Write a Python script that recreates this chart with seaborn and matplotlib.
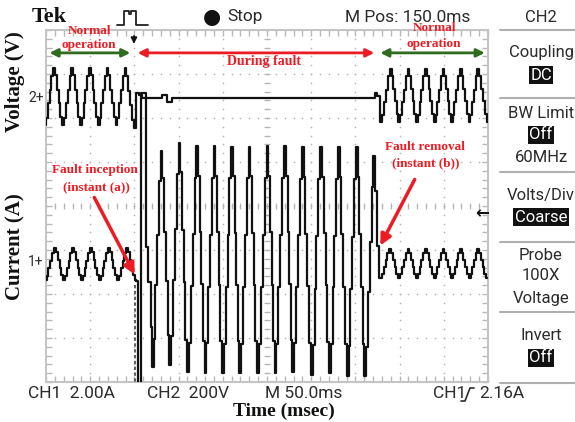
import matplotlib
matplotlib.use("Agg")

import matplotlib.pyplot as plt  # noqa: E402
from matplotlib.lines import Line2D  # noqa: E402
from matplotlib.patches import FancyArrowPatch  # noqa: E402
from matplotlib.ticker import MultipleLocator, NullFormatter  # noqa: E402
import numpy as np  # noqa: E402
import pandas as pd  # noqa: E402
import seaborn as sns  # noqa: E402

# ── Trace data ───────────────────────────────────────────────────────────────
# time in ms (50 ms/div, 10 div), level in screen divisions (0 = centre line)

# CH2 voltage: turning points before the fault
v_pre_t = [-1.0, 9.0, 19.5, 29.7, 39.5, 49.7, 59.8, 69.6, 79.8, 90.0, 100.5]
v_pre_v = [1.84, 3.14, 1.84, 3.14, 1.84, 3.14, 1.84, 3.14, 1.84, 3.14, 1.77]
# CH2 voltage while the fault is on (collapses to a flat level)
v_fault_t = [104.0, 106.5, 110.0, 128.5, 133.0, 140.5, 144.0, 250.0, 371.0, 373.5, 376.0]
v_fault_v = [2.57, 2.52, 2.46, 2.46, 2.52, 2.36, 2.45, 2.45, 2.45, 2.57, 2.50]
# CH2 voltage turning points after clearing
v_post_t = [379.0, 390.2, 399.5, 410.0, 419.5, 429.7, 439.8, 449.5, 459.0, 469.2, 479.1, 489.0, 499.5]
v_post_v = [1.92, 3.11, 1.92, 3.11, 1.92, 3.11, 1.92, 3.11, 1.92, 3.11, 1.92, 3.11, 1.92]

# CH1 current: turning points before the fault
i_pre_t = [-0.5, 10.2, 20.5, 30.8, 40.8, 50.8, 61.0, 71.1, 81.4, 91.8, 101.5]
i_pre_v = [-1.68, -0.96, -1.68, -0.96, -1.68, -0.96, -1.68, -0.96, -1.68, -0.96, -1.68]
# CH1 current at the fault inception (off-screen dip, first offset peak)
i_start_t = [103.0, 105.0, 107.0, 109.0, 111.5, 114.0, 117.0, 119.5]
i_start_v = [-1.70, -4.50, -4.50, 2.57, 2.57, -0.93, -1.73, -2.75]
# CH1 fault current turning points
i_fault_t = [120.8, 130.6, 140.7, 151.2, 160.6, 171.2, 180.2, 190.7, 200.1, 210.7, 219.7,
             230.3, 239.6, 250.6, 259.6, 270.9, 279.2, 290.4, 300.6, 311.2, 321.3, 331.0,
             341.2, 351.4, 361.2, 371.3]
i_fault_v = [-3.65, 1.26, -3.61, 1.44, -3.77, 1.36, -3.79, 1.36, -3.80, 1.35, -3.80,
             1.35, -3.80, 1.36, -3.80, 1.36, -3.77, 1.33, -3.84, 1.33, -3.80, 1.33,
             -3.86, 1.33, -3.86, 1.14]
# CH1 current at fault removal
i_clear_t = [373.5, 375.5]
i_clear_v = [0.35, -0.92]
# CH1 current turning points after clearing
i_post_t = [378.9, 389.4, 399.5, 410.0, 419.5, 429.7, 439.9, 449.6, 459.7, 469.2, 479.3, 489.1, 498.5]
i_post_v = [-1.64, -0.98, -1.64, -0.98, -1.64, -0.98, -1.64, -0.98, -1.64, -0.98, -1.64, -0.98, -1.64]

# dashed trace segment just before the inception
gap_t = [100.3, 100.3]
gap_v = [-1.80, -4.20]

# fraction of a swing reached at each scope sample between two turning points
EDGE = [0.13, 0.38, 0.61, 0.86]

W, H = 575, 422
SCOPE_FONT = ["Roboto", "DejaVu Sans"]
SERIF = ["Liberation Serif", "DejaVu Serif"]
RED = "#ec1c24"
GREEN = "#2e6b1f"
INK = "#2b2b2b"


def fx(x):
    return x / W


def fy(y):
    return 1 - y / H


def sampled(ext_t, ext_v):
    t, v = [], []
    for k in range(len(ext_t) - 1):
        t0, t1, v0, v1 = ext_t[k], ext_t[k + 1], ext_v[k], ext_v[k + 1]
        t.append(t0)
        v.append(v0)
        for j, f in enumerate(EDGE, 1):
            t.append(t0 + (t1 - t0) * j / (len(EDGE) + 1))
            v.append(v0 + (v1 - v0) * f)
    t.append(ext_t[-1])
    v.append(ext_v[-1])
    return t, v


def build(*parts):
    t, v = [], []
    for pt, pv, edged in parts:
        if edged:
            pt, pv = sampled(pt, pv)
        t += list(pt)
        v += list(pv)
    return pd.DataFrame({"t": t, "v": v})


volt = build((v_pre_t, v_pre_v, True), (v_fault_t, v_fault_v, False), (v_post_t, v_post_v, True))
curr = build((i_pre_t, i_pre_v, True), (i_start_t, i_start_v, False), (i_fault_t, i_fault_v, True),
             (i_clear_t, i_clear_v, False), (i_post_t, i_post_v, True))

sns.set_theme(style="white")
plt.rcParams["font.family"] = SCOPE_FONT

fig = plt.figure(figsize=(W / 100, H / 100), dpi=100)
ax = fig.add_axes([fx(46), fy(382), (488 - 46) / W, (382 - 30) / H])

# traces
sns.lineplot(data=volt, x="t", y="v", estimator=None, sort=False, drawstyle="steps-mid",
             color="#111111", linewidth=1.6, ax=ax, zorder=5)
sns.lineplot(data=curr, x="t", y="v", estimator=None, sort=False, drawstyle="steps-mid",
             color="#111111", linewidth=1.6, ax=ax, zorder=5)
ax.plot(gap_t, gap_v, color="#444444", lw=1.2, ls=(0, (2, 1.5)), zorder=5)

ax.set_xlim(0, 500)
ax.set_ylim(-4, 4)
ax.set_xlabel("")
ax.set_ylabel("")

# graticule: dotted division lines, ticked centre lines
grid_c = "#b4b4b4"
minor_x = np.arange(0, 500.1, 10)
minor_y = np.arange(-4, 4.01, 0.2)
for xm in np.arange(50, 451, 50):
    ax.plot(np.full_like(minor_y, xm), minor_y, ls="none", marker="o", ms=1.2, mew=0, color=grid_c)
for ym in np.arange(-3, 3.1, 1):
    ax.plot(minor_x, np.full_like(minor_x, ym), ls="none", marker="o", ms=1.2, mew=0, color=grid_c)
ax.plot(minor_x, np.zeros_like(minor_x), ls="none", marker="|", ms=5, mew=0.9, color=grid_c)
ax.plot(np.full_like(minor_y, 250), minor_y, ls="none", marker="_", ms=5, mew=0.9, color=grid_c)

for s in ax.spines.values():
    s.set_color("#c4c4c4")
    s.set_linewidth(1.5)
ax.xaxis.set_major_locator(MultipleLocator(50))
ax.xaxis.set_minor_locator(MultipleLocator(10))
ax.yaxis.set_major_locator(MultipleLocator(1))
ax.yaxis.set_minor_locator(MultipleLocator(0.2))
ax.xaxis.set_major_formatter(NullFormatter())
ax.yaxis.set_major_formatter(NullFormatter())
ax.tick_params(which="both", direction="in", length=4, width=1, color="#b8b8b8",
               top=True, right=True, bottom=True, left=True)

# trigger level marker on the right, trigger position on top
ax.text(493, -0.16, "\u2190", ha="center", va="center", fontsize=12, color="#111111",
        family=["DejaVu Sans"], fontweight="bold", clip_on=False)
ax.annotate("", xy=(99.5, 3.62), xytext=(99.5, 3.93),
            arrowprops=dict(arrowstyle="-|>", color="#111111", lw=1.2, mutation_scale=9))

# channel markers
fig.text(fx(36), fy(98), "2+", ha="center", va="center", fontsize=10, color=INK)
fig.text(fx(36), fy(262), "1+", ha="center", va="center", fontsize=10, color=INK)

# red / green annotations
arrow_y = 3.48
ax.annotate("", xy=(0.8, arrow_y), xytext=(98.5, arrow_y),
            arrowprops=dict(arrowstyle="<|-|>", color=GREEN, lw=2, mutation_scale=12))
ax.annotate("", xy=(100.5, arrow_y), xytext=(374.5, arrow_y),
            arrowprops=dict(arrowstyle="<|-|>", color=RED, lw=2, mutation_scale=12))
ax.annotate("", xy=(375.0, arrow_y), xytext=(499.5, arrow_y),
            arrowprops=dict(arrowstyle="<|-|>", color=GREEN, lw=2, mutation_scale=12))

red_txt = dict(color=RED, family=SERIF, fontweight="bold", ha="center", va="center")
fig.text(fx(89), fy(31), "Normal", fontsize=9.5, **red_txt)
fig.text(fx(89), fy(45), "operation", fontsize=9.5, **red_txt)
fig.text(fx(434), fy(28), "Normal", fontsize=9.5, **red_txt)
fig.text(fx(434), fy(44), "operation", fontsize=9.5, **red_txt)
fig.text(fx(264), fy(62), "During fault", fontsize=10, **red_txt)
fig.text(fx(95), fy(170), "Fault inception", fontsize=9.5, **red_txt)
fig.text(fx(96), fy(187), "(instant (a))", fontsize=9.5, **red_txt)
fig.text(fx(425), fy(147), "Fault removal", fontsize=9.5, **red_txt)
fig.text(fx(426), fy(163), "(instant (b))", fontsize=9.5, **red_txt)

for (x0, y0), (x1, y1) in [((93, 195), (136, 277)), ((416, 177), (379, 248))]:
    fig.add_artist(FancyArrowPatch(
        (fx(x0), fy(y0)), (fx(x1), fy(y1)), transform=fig.transFigure,
        arrowstyle="-|>", color=RED, lw=2.5, mutation_scale=16))

# axis titles
lab = dict(family=SERIF, fontweight="bold", color="#111111", ha="center", va="center")
fig.text(fx(284), fy(411), "Time (msec)", fontsize=14, **lab)
fig.text(fx(15), fy(82), "Voltage (V)", fontsize=15, rotation=90, **lab)
fig.text(fx(15), fy(247), "Current (A)", fontsize=15, rotation=90, **lab)

# top status bar
fig.text(fx(49), fy(17), "Tek", fontsize=16, **lab)
fig.text(fx(212), fy(17), "\u25cf", fontsize=15, color="#111111", family=["DejaVu Sans"],
         ha="center", va="center")
fig.text(fx(227), fy(17), "Stop", fontsize=12.5, color=INK, ha="left", va="center")
fig.text(fx(345), fy(17), "M Pos: 150.0ms", fontsize=12.5, color=INK, ha="left", va="center")
px = [117, 124, 124, 129, 129, 131, 131, 136, 136, 148]
py = [25, 25, 11, 11, 14, 14, 11, 11, 25, 25]
fig.add_artist(Line2D([fx(p) for p in px], [fy(p) for p in py], transform=fig.transFigure,
                      color="#222222", lw=1.3))

# bottom status bar
for x, s in [(28, "CH1  2.00A"), (147, "CH2  200V"), (265, "M 50.0ms"), (433, "CH1"), (479, "2.16A")]:
    fig.text(fx(x), fy(394), s, fontsize=12.5, color=INK, ha="left", va="center")
sx = [461, 465, 470, 474]
sy = [401, 401, 388, 388]
fig.add_artist(Line2D([fx(p) for p in sx], [fy(p) for p in sy], transform=fig.transFigure,
                      color=INK, lw=1.2))

# right-hand menu
for y in [30, 98, 172, 242, 312, 383]:
    fig.add_artist(Line2D([fx(500), fx(575)], [fy(y), fy(y)], transform=fig.transFigure,
                          color="#b0b0b0", lw=1.5))
menu = [(17, "CH2", False), (53, "Coupling", False), (75, "DC", True), (113, "BW Limit", False),
        (135, "Off", True), (157, "60MHz", False), (195, "Volts/Div", False), (217, "Coarse", True),
        (256, "Probe", False), (276, "100X", False), (298, "Voltage", False), (336, "Invert", False),
        (358, "Off", True)]
for y, s, inv in menu:
    if inv:
        fig.text(fx(541), fy(y), s, fontsize=12, color="white", ha="center", va="center",
                 bbox=dict(boxstyle="square,pad=0.08", fc="#111111", ec="none"))
    else:
        fig.text(fx(541), fy(y), s, fontsize=12, color=INK, ha="center", va="center")

fig.savefig("out.png", dpi=100)
